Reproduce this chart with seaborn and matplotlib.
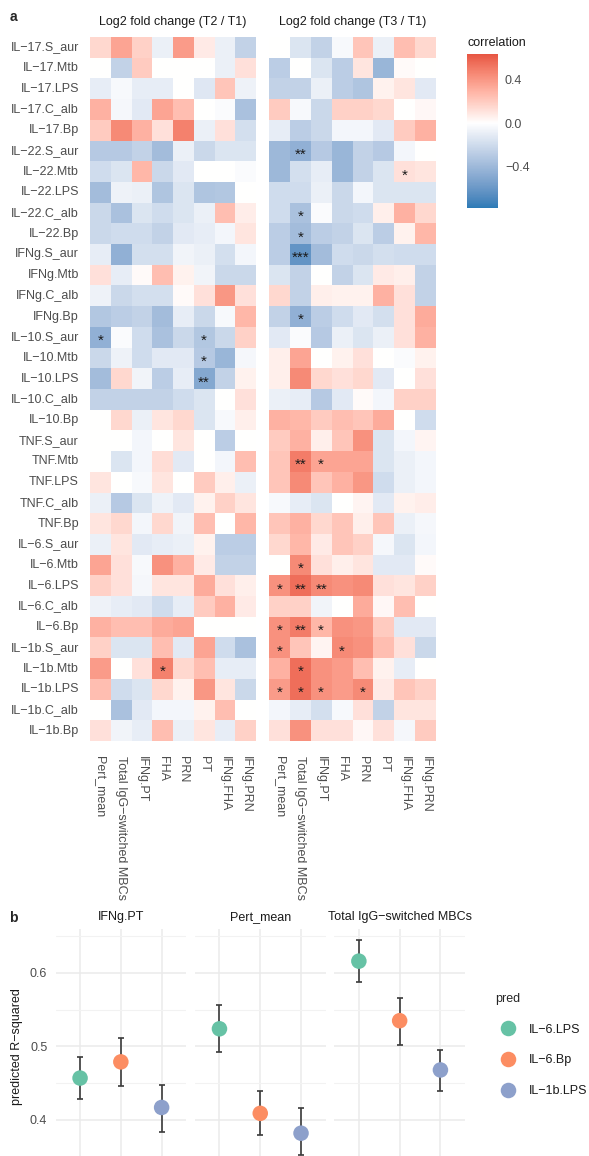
import numpy as np
import pandas as pd
import matplotlib
matplotlib.use("Agg")
import matplotlib.pyplot as plt
import seaborn as sns
from matplotlib.colors import ListedColormap

# ---------------------------------------------------------------- data
cytokines = [
    "IL-17.S_aur", "IL-17.Mtb", "IL-17.LPS", "IL-17.C_alb", "IL-17.Bp",
    "IL-22.S_aur", "IL-22.Mtb", "IL-22.LPS", "IL-22.C_alb", "IL-22.Bp",
    "IFNg.S_aur", "IFNg.Mtb", "IFNg.C_alb", "IFNg.Bp",
    "IL-10.S_aur", "IL-10.Mtb", "IL-10.LPS", "IL-10.C_alb", "IL-10.Bp",
    "TNF.S_aur", "TNF.Mtb", "TNF.LPS", "TNF.C_alb", "TNF.Bp",
    "IL-6.S_aur", "IL-6.Mtb", "IL-6.LPS", "IL-6.C_alb", "IL-6.Bp",
    "IL-1b.S_aur", "IL-1b.Mtb", "IL-1b.LPS", "IL-1b.C_alb", "IL-1b.Bp",
]
responses = ["Pert_mean", "Total IgG-switched MBCs", "IFNg.PT", "FHA",
             "PRN", "PT", "IFNg.FHA", "IFNg.PRN"]

# correlation of log2 fold change (T2 / T1) with each response
corr_t2 = [
    [0.15, 0.35, 0.18, -0.08, 0.38, 0.08, -0.08, -0.25],
    [0.00, -0.25, 0.20, 0.00, 0.00, 0.00, -0.08, 0.12],
    [-0.10, -0.03, -0.10, -0.10, 0.00, -0.13, 0.22, -0.07],
    [0.30, -0.04, -0.12, 0.35, 0.25, 0.00, -0.02, -0.35],
    [0.20, 0.45, 0.30, 0.12, 0.48, -0.08, 0.12, -0.18],
    [-0.30, -0.30, -0.25, -0.38, -0.08, -0.22, -0.15, -0.15],
    [-0.20, -0.15, 0.28, -0.22, -0.12, 0.00, 0.00, -0.02],
    [-0.38, -0.07, -0.08, -0.33, -0.15, -0.33, -0.32, 0.00],
    [-0.22, -0.35, -0.15, -0.20, -0.15, -0.08, 0.25, 0.07],
    [-0.22, -0.20, -0.20, -0.25, -0.12, -0.10, -0.05, 0.10],
    [-0.10, -0.45, -0.18, -0.18, -0.06, -0.08, -0.18, -0.05],
    [0.12, -0.10, 0.02, 0.25, 0.05, -0.06, -0.22, -0.22],
    [-0.07, -0.22, -0.18, -0.18, 0.02, 0.12, 0.40, 0.12],
    [-0.32, -0.28, -0.25, -0.38, -0.10, -0.22, -0.03, 0.28],
    [-0.45, -0.02, -0.20, -0.35, -0.22, -0.32, -0.22, 0.18],
    [-0.22, -0.07, -0.20, -0.12, -0.12, -0.30, -0.42, -0.04],
    [-0.38, 0.15, -0.06, -0.28, -0.10, -0.50, -0.25, 0.05],
    [-0.25, -0.25, -0.25, -0.25, -0.20, -0.15, 0.00, 0.12],
    [0.00, 0.15, -0.08, 0.10, 0.15, -0.15, -0.03, 0.06],
    [0.00, 0.00, -0.05, 0.00, 0.10, 0.00, -0.28, 0.00],
    [0.00, -0.15, -0.05, 0.13, -0.12, 0.00, -0.05, 0.25],
    [0.10, 0.00, -0.03, 0.10, 0.00, 0.20, 0.06, -0.08],
    [-0.08, -0.30, -0.15, -0.07, -0.12, 0.05, 0.18, 0.10],
    [0.10, 0.15, -0.05, 0.15, -0.06, 0.25, 0.00, 0.28],
    [-0.08, 0.10, -0.12, -0.10, -0.08, 0.05, -0.28, -0.28],
    [0.35, 0.12, -0.03, 0.42, 0.30, 0.08, -0.25, -0.25],
    [0.18, 0.12, -0.04, 0.10, 0.10, 0.32, 0.12, 0.06],
    [-0.07, -0.10, -0.12, -0.20, -0.10, 0.20, 0.30, 0.08],
    [0.30, 0.25, 0.25, 0.32, 0.35, 0.00, 0.00, 0.00],
    [0.18, -0.15, -0.15, 0.25, -0.12, 0.35, -0.20, -0.35],
    [0.38, 0.00, 0.12, 0.48, 0.15, 0.25, -0.10, -0.10],
    [0.25, -0.20, -0.15, 0.15, 0.05, 0.40, 0.10, -0.22],
    [0.00, -0.35, -0.12, -0.05, -0.05, 0.05, 0.25, 0.00],
    [0.12, -0.06, -0.10, 0.25, -0.08, 0.10, -0.10, 0.18],
]

# correlation of log2 fold change (T3 / T1) with each response
corr_t3 = [
    [0.00, -0.15, -0.25, -0.03, 0.22, -0.08, 0.25, 0.15],
    [-0.28, 0.00, -0.15, -0.28, 0.10, -0.42, 0.02, 0.00],
    [-0.25, -0.25, -0.08, -0.28, -0.33, 0.05, 0.10, -0.12],
    [0.20, -0.03, -0.22, 0.18, 0.18, 0.15, 0.00, 0.03],
    [-0.10, -0.28, -0.22, -0.05, -0.05, -0.12, 0.20, 0.30],
    [-0.40, -0.45, -0.30, -0.42, -0.25, -0.30, -0.05, 0.00],
    [-0.40, -0.18, -0.10, -0.42, -0.25, -0.15, 0.12, 0.10],
    [-0.20, -0.20, -0.08, -0.22, -0.05, -0.15, -0.15, -0.15],
    [-0.20, -0.35, -0.02, -0.22, -0.20, 0.06, 0.30, 0.15],
    [-0.28, -0.38, -0.28, -0.25, -0.15, -0.28, 0.05, 0.28],
    [-0.28, -0.62, -0.38, -0.20, -0.22, -0.18, -0.20, -0.20],
    [-0.15, -0.25, 0.00, -0.25, -0.15, 0.08, 0.06, -0.25],
    [0.15, -0.25, 0.06, 0.05, 0.05, 0.30, 0.12, -0.25],
    [-0.25, -0.45, -0.28, -0.20, -0.12, -0.18, 0.12, 0.32],
    [-0.12, -0.02, -0.30, -0.08, -0.15, -0.08, 0.12, 0.30],
    [0.06, 0.35, 0.00, 0.05, 0.12, 0.00, -0.02, 0.05],
    [0.06, 0.45, 0.15, 0.12, 0.15, -0.12, 0.00, 0.12],
    [-0.08, -0.10, -0.30, -0.12, 0.02, -0.05, 0.18, 0.18],
    [0.30, 0.28, 0.20, 0.25, 0.22, 0.32, 0.00, -0.20],
    [0.20, 0.30, 0.06, 0.22, 0.42, -0.15, -0.05, 0.04],
    [0.22, 0.50, 0.35, 0.35, 0.35, -0.15, -0.08, -0.05],
    [0.22, 0.45, 0.22, 0.30, 0.40, -0.20, -0.08, -0.05],
    [-0.03, -0.10, -0.15, 0.00, 0.04, -0.12, 0.05, 0.07],
    [0.22, 0.30, 0.15, 0.22, 0.06, 0.22, -0.08, -0.04],
    [0.15, 0.28, 0.08, 0.22, 0.18, -0.04, -0.15, -0.05],
    [0.00, 0.45, 0.12, 0.06, 0.10, -0.12, -0.12, 0.02],
    [0.42, 0.55, 0.45, 0.42, 0.45, 0.12, 0.10, 0.18],
    [0.18, 0.18, -0.06, 0.00, 0.32, 0.03, 0.25, 0.00],
    [0.42, 0.50, 0.28, 0.42, 0.40, 0.20, -0.12, -0.12],
    [0.42, 0.22, 0.04, 0.45, 0.42, 0.25, 0.12, -0.22],
    [0.30, 0.55, 0.42, 0.38, 0.25, 0.05, -0.10, 0.00],
    [0.38, 0.55, 0.42, 0.38, 0.45, 0.08, 0.22, 0.18],
    [-0.05, -0.10, -0.18, -0.03, 0.12, -0.25, 0.10, 0.10],
    [0.12, 0.42, 0.12, 0.12, 0.03, 0.12, -0.04, 0.20],
]

# significance marks (cytokine, response, stars)
sig_t2 = [
    ("IL-10.S_aur", "Pert_mean", "*"),
    ("IL-10.S_aur", "PT", "*"),
    ("IL-10.Mtb", "PT", "*"),
    ("IL-10.LPS", "PT", "**"),
    ("IL-1b.Mtb", "FHA", "*"),
]
sig_t3 = [
    ("IL-22.S_aur", "Total IgG-switched MBCs", "**"),
    ("IL-22.Mtb", "IFNg.FHA", "*"),
    ("IL-22.C_alb", "Total IgG-switched MBCs", "*"),
    ("IL-22.Bp", "Total IgG-switched MBCs", "*"),
    ("IFNg.S_aur", "Total IgG-switched MBCs", "***"),
    ("IFNg.Bp", "Total IgG-switched MBCs", "*"),
    ("TNF.Mtb", "Total IgG-switched MBCs", "**"),
    ("TNF.Mtb", "IFNg.PT", "*"),
    ("IL-6.Mtb", "Total IgG-switched MBCs", "*"),
    ("IL-6.LPS", "Pert_mean", "*"),
    ("IL-6.LPS", "Total IgG-switched MBCs", "**"),
    ("IL-6.LPS", "IFNg.PT", "**"),
    ("IL-6.Bp", "Pert_mean", "*"),
    ("IL-6.Bp", "Total IgG-switched MBCs", "**"),
    ("IL-6.Bp", "IFNg.PT", "*"),
    ("IL-1b.S_aur", "Pert_mean", "*"),
    ("IL-1b.S_aur", "FHA", "*"),
    ("IL-1b.Mtb", "Total IgG-switched MBCs", "*"),
    ("IL-1b.LPS", "Pert_mean", "*"),
    ("IL-1b.LPS", "Total IgG-switched MBCs", "*"),
    ("IL-1b.LPS", "IFNg.PT", "*"),
    ("IL-1b.LPS", "PRN", "*"),
]

cbar_limits = (-0.78, 0.634)
cbar_ticks = [-0.4, 0.0, 0.4]

# panel b: predicted R-squared per outcome and predictor
outcomes = ["IFNg.PT", "Pert_mean", "Total IgG-switched MBCs"]
predictors = ["IL-6.LPS", "IL-6.Bp", "IL-1b.LPS"]
r2_est = [[0.457, 0.479, 0.417],
          [0.524, 0.409, 0.382],
          [0.616, 0.535, 0.468]]
r2_low = [[0.429, 0.446, 0.384],
          [0.493, 0.379, 0.352],
          [0.588, 0.502, 0.440]]
r2_high = [[0.485, 0.512, 0.448],
           [0.557, 0.440, 0.416],
           [0.645, 0.566, 0.495]]
pred_colors = ["#66C2A5", "#FC8D62", "#8DA0CB"]

# ---------------------------------------------------------------- style
sns.set_theme(style="white")
plt.rcParams["font.family"] = ["Liberation Sans", "DejaVu Sans"]
plt.rcParams["axes.unicode_minus"] = True
TXT = "#4D4D4D"
FS = 9


def disp(s):
    return s.replace("-", "\u2212")


# diverging palette interpolated in CIE Lab (white midpoint)
_M = np.array([[0.4124, 0.3576, 0.1805],
               [0.2126, 0.7152, 0.0722],
               [0.0193, 0.1192, 0.9505]])
_WP = np.array([0.95047, 1.0, 1.08883])


def _to_lab(rgb):
    rgb = np.asarray(rgb, float)
    lin = np.where(rgb <= 0.04045, rgb / 12.92, ((rgb + 0.055) / 1.055) ** 2.4)
    xyz = lin @ _M.T / _WP
    f = np.where(xyz > 0.008856, np.cbrt(xyz), 7.787 * xyz + 16 / 116)
    return np.stack([116 * f[..., 1] - 16,
                     500 * (f[..., 0] - f[..., 1]),
                     200 * (f[..., 1] - f[..., 2])], -1)


def _from_lab(lab):
    L, a, b = lab[..., 0], lab[..., 1], lab[..., 2]
    fy = (L + 16) / 116
    f = np.stack([fy + a / 500, fy, fy - b / 200], -1)
    xyz = np.where(f > 0.206893, f ** 3, (f - 16 / 116) / 7.787) * _WP
    lin = np.clip(xyz @ np.linalg.inv(_M).T, 0, 1)
    rgb = np.where(lin <= 0.0031308, lin * 12.92, 1.055 * lin ** (1 / 2.4) - 0.055)
    return np.clip(rgb, 0, 1)


def diverging_lab(low, high, lo, hi):
    m = max(abs(lo), abs(hi))
    t = np.linspace(lo, hi, 256)[:, None] / m
    low_lab = _to_lab(matplotlib.colors.to_rgb(low))
    high_lab = _to_lab(matplotlib.colors.to_rgb(high))
    white = _to_lab([1.0, 1.0, 1.0])
    out = np.where(t < 0, white + (-t) * (low_lab - white),
                   white + t * (high_lab - white))
    return ListedColormap(_from_lab(out))


cmap = diverging_lab("#2C7BB6", "#D7191C", *cbar_limits)

W, H = 589, 1156
fig = plt.figure(figsize=(W / 100, H / 100), dpi=100)


def box(x0, y0, x1, y1):
    return [x0 / W, 1 - y1 / H, (x1 - x0) / W, (y1 - y0) / H]


# ---------------------------------------------------------------- panel a
ax_l = fig.add_axes(box(90, 37, 256, 741))
ax_r = fig.add_axes(box(269, 37, 436, 741))
cax = fig.add_axes(box(467, 54, 498, 208))

df_t2 = pd.DataFrame(corr_t2, index=cytokines, columns=responses)
df_t3 = pd.DataFrame(corr_t3, index=cytokines, columns=responses)

sns.heatmap(df_t2, ax=ax_l, cmap=cmap, vmin=cbar_limits[0], vmax=cbar_limits[1],
            cbar=False, linewidths=0)
sns.heatmap(df_t3, ax=ax_r, cmap=cmap, vmin=cbar_limits[0], vmax=cbar_limits[1],
            cbar=True, cbar_ax=cax, cbar_kws={"ticks": cbar_ticks}, linewidths=0)

for ax, sig, show_y in ((ax_l, sig_t2, True), (ax_r, sig_t3, False)):
    ax.set_xlabel("")
    ax.set_ylabel("")
    ax.set_xticks(np.arange(len(responses)) + 0.5)
    ax.set_xticklabels([disp(r) for r in responses], rotation=270,
                       ha="center", va="top")
    ax.tick_params(axis="x", length=0, pad=11, labelsize=FS, labelcolor=TXT)
    if show_y:
        ax.set_yticks(np.arange(len(cytokines)) + 0.5)
        ax.set_yticklabels([disp(c) for c in cytokines], rotation=0)
        ax.tick_params(axis="y", length=0, pad=8, labelsize=FS, labelcolor=TXT)
    else:
        ax.set_yticks([])
    for row, col, stars in sig:
        ax.text(responses.index(col) + 0.5, cytokines.index(row) + 0.68, stars,
                ha="center", va="center", fontsize=11, color="#1A1A1A")

cbar = ax_r.collections[0].colorbar
cbar.outline.set_visible(False)
cbar.set_ticks(cbar_ticks)
cbar.set_ticklabels([disp(f"{t:.1f}") for t in cbar_ticks])
cbar.ax.tick_params(which="major", direction="in", length=5, width=1,
                    color="white", left=True, right=True,
                    labelsize=FS, labelcolor=TXT, pad=5)
fig.text(467 / W, 1 - 43 / H, "correlation", ha="left", va="center",
         fontsize=FS, color="#1A1A1A")

fig.text(173 / W, 1 - 22 / H, "Log2 fold change (T2 / T1)", ha="center",
         va="center", fontsize=FS, color="#1A1A1A")
fig.text(352.5 / W, 1 - 22 / H, "Log2 fold change (T3 / T1)", ha="center",
         va="center", fontsize=FS, color="#1A1A1A")
fig.text(13 / W, 1 - 17 / H, "a", ha="center", va="center", fontsize=10,
         fontweight="bold")

# ---------------------------------------------------------------- panel b
rows = []
for i, out in enumerate(outcomes):
    for j, p in enumerate(predictors):
        rows.append({"outcome": out, "pred": p, "r2": r2_est[i][j],
                     "low": r2_low[i][j], "high": r2_high[i][j]})
df_b = pd.DataFrame(rows)

lefts = [55.6, 195.0, 334.4]
pw = 130.5
y_lo, y_hi = 0.3374, 0.6597
axes_b = []
for i, out in enumerate(outcomes):
    ax = fig.add_axes(box(lefts[i], 929, lefts[i] + pw, 1166))
    axes_b.append(ax)
    sub = df_b[df_b["outcome"] == out]
    ax.errorbar(sub["pred"], sub["r2"],
                yerr=[sub["r2"] - sub["low"], sub["high"] - sub["r2"]],
                fmt="none", ecolor="#3A3A3A", elinewidth=1.2, capsize=2.2,
                capthick=1.2, zorder=2)
    sns.scatterplot(data=sub, x="pred", y="r2", hue="pred",
                    hue_order=predictors, palette=pred_colors, s=125,
                    linewidth=0, ax=ax, zorder=3, legend=(i == 2))
    ax.set_xlim(-0.6, 2.6)
    ax.set_ylim(y_lo, y_hi)
    ax.set_yticks([0.4, 0.5, 0.6])
    ax.set_yticks([0.35, 0.45, 0.55, 0.65], minor=True)
    ax.grid(True, which="major", color="#EBEBEB", linewidth=1.1)
    ax.grid(True, which="minor", axis="y", color="#F2F2F2", linewidth=0.8)
    ax.set_axisbelow(True)
    for s in ax.spines.values():
        s.set_visible(False)
    ax.set_xlabel("")
    ax.set_ylabel("")
    ax.tick_params(axis="both", which="both", length=0, labelbottom=False)
    if i == 0:
        ax.tick_params(axis="y", labelsize=FS, labelcolor=TXT, pad=6)
    else:
        ax.tick_params(axis="y", labelleft=False)
    fig.text((lefts[i] + pw / 2) / W, 1 - 917 / H, disp(out), ha="center",
             va="center", fontsize=FS, color="#1A1A1A")

sns.move_legend(axes_b[2], "upper left", bbox_to_anchor=(495 / W, 1 - 993 / H),
                bbox_transform=fig.transFigure, frameon=False, title="pred",
                fontsize=FS, title_fontsize=FS, labelspacing=1.5,
                handletextpad=0.7, borderpad=0, borderaxespad=0)
leg = axes_b[2].get_legend()
leg._legend_box.align = "left"
for t in leg.get_texts():
    t.set_text(disp(t.get_text()))
    t.set_color("#1A1A1A")

fig.text(17 / W, 1 - 1047 / H, disp("predicted R-squared"), rotation=90,
         ha="center", va="center", fontsize=FS, color="#1A1A1A")
fig.text(13 / W, 1 - 918 / H, "b", ha="center", va="center", fontsize=10,
         fontweight="bold")

fig.savefig("out.png", dpi=100)
